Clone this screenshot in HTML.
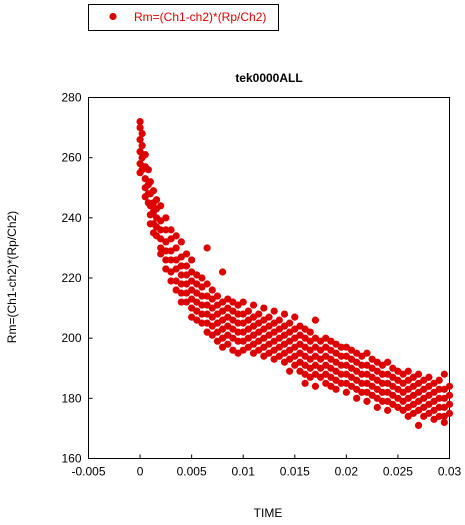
<!DOCTYPE html>
<html><head><meta charset="utf-8"><style>
body{margin:0;background:#fff;width:465px;height:525px;overflow:hidden}
svg{display:block;font-family:"Liberation Sans",sans-serif}
</style></head><body>
<svg id="chart" width="465" height="525" viewBox="0 0 465 525">
<rect x="88.5" y="4.5" width="190" height="26" fill="#fff" stroke="#000" stroke-width="1"/>
<circle cx="113" cy="16.5" r="3.6" fill="#dd0000"/>
<text x="134" y="21" font-size="12" fill="#dd0000">Rm=(Ch1-ch2)*(Rp/Ch2)</text>
<text x="269" y="82" font-size="12" font-weight="bold" text-anchor="middle">tek0000ALL</text>
<rect x="88.5" y="97.5" width="361" height="361" fill="#fff" stroke="#000"/>
<g id="ticks"></g>
<g id="points"></g>
<text x="268" y="517" font-size="12" text-anchor="middle">TIME</text>
<text transform="translate(16,277) rotate(-90)" font-size="12" text-anchor="middle">Rm=(Ch1-ch2)*(Rp/Ch2)</text>
</svg>
<script>
const xTicks=[-0.005,0,0.005,0.01,0.015,0.02,0.025,0.03];
const xTickLabels=["-0.005","0","0.005","0.01","0.015","0.02","0.025","0.03"];
const yTicks=[160,180,200,220,240,260,280];
const groupTimes=[0,0.0002,0.0005,0.0008,0.001,0.0013,0.0016,0.002,0.0025,0.003,0.0035,0.004,0.0045,0.005,0.0055,0.006,0.0065,0.007,0.0075,0.008,0.0085,0.009,0.0095,0.01,0.0105,0.011,0.0115,0.012,0.0125,0.013,0.0135,0.014,0.0145,0.015,0.0155,0.016,0.0165,0.017,0.0175,0.018,0.0185,0.019,0.0195,0.02,0.0205,0.021,0.0215,0.022,0.0225,0.023,0.0235,0.024,0.0245,0.025,0.0255,0.026,0.0265,0.027,0.0275,0.028,0.0285,0.029,0.0295,0.03];
const groupValues=[
[272,270,266,262,258,255],[268,264,260,256],[261,257,253,250,247],[256,251,248,245],[252,248,244,241,238],
[249,245,242,238,235],[246,243,240,237,234],[244,239,236,233,230,228],[240,236,232,229,226,223],[236,233,229,226,222,219],
[234,230,226,223,219,216],[232,227,224,221,218,215,212],[228,224,221,218,215,212],[226,222,219,216,213,210,207],[221,218,215,212,209,206],
[220,217,214,211,208,205],[230,218,214,211,208,205,202],[216,213,210,207,204,201],[214,211,208,205,202,199],[222,212,209,206,203,200,197],
[213,210,207,204,201,198],[212,209,206,203,200,196],[211,208,205,202,199,195],[212,208,205,202,199,196],[209,206,203,200,197],
[211,207,204,201,198,195],[208,205,202,199,196],[210,206,203,200,197,194],[207,204,201,198,195],[209,205,202,199,196,193],
[206,203,200,197,194],[208,204,201,198,195,192],[205,202,199,196,193,189],[207,203,200,197,194,191],[204,201,198,195,192,189],
[203,200,197,194,191,188,185],[202,199,196,193,190,187],[206,200,197,194,191,188,184],[199,196,193,190,187],[200,197,194,191,188,185],
[199,196,193,190,187,184],[198,195,192,189,186,183],[197,194,191,188,185],[197,194,191,188,185,182],[196,193,190,187,184],
[195,192,189,186,183,180],[194,191,188,185,182],[195,191,188,185,182,179],[193,190,187,184,181],[192,189,186,183,180,177],
[191,188,185,182,179],[192,188,185,182,179,176],[190,187,184,181,178],[189,186,183,180,177],[188,185,182,179,176],
[189,186,183,180,177,174],[187,184,181,178,175],[188,185,182,179,176,171],[186,183,180,177,174],[187,184,181,178,175],
[185,182,179,176,173],[186,183,180,177,174],[188,183,180,177,174,172],[184,181,178,175]];
const NS="http://www.w3.org/2000/svg";
const X0=88.5,X1=449.5,Y0=458.5,Y1=97.5;
const xs=v=>X0+(v+0.005)/0.035*(X1-X0);
const ys=v=>Y0-(v-160)/120*(Y0-Y1);
const tg=document.getElementById('ticks');
xTicks.forEach((t,i)=>{
  const x=xs(t);
  const l=document.createElementNS(NS,'line');
  
  
  l.setAttribute('x1',x);l.setAttribute('x2',x);l.setAttribute('y1',Y0);l.setAttribute('y2',Y0-4);l.setAttribute('stroke','#000');
  tg.appendChild(l);
  const tx=document.createElementNS(NS,'text');
  
  
  tx.setAttribute('x',x);tx.setAttribute('y',Y0+17);tx.setAttribute('font-size','12');tx.setAttribute('text-anchor','middle');
  tx.textContent=xTickLabels[i];tg.appendChild(tx);
});
yTicks.forEach(t=>{
  const y=ys(t);
  const l=document.createElementNS(NS,'line');
  
  
  l.setAttribute('x1',X0);l.setAttribute('x2',X0+4);l.setAttribute('y1',y);l.setAttribute('y2',y);l.setAttribute('stroke','#000');
  tg.appendChild(l);
  const tx=document.createElementNS(NS,'text');
  
  
  tx.setAttribute('x',X0-7);tx.setAttribute('y',y+4);tx.setAttribute('font-size','12');tx.setAttribute('text-anchor','end');
  tx.textContent=t;tg.appendChild(tx);
});
const pg=document.getElementById('points');
groupTimes.forEach((t,i)=>{
  groupValues[i].forEach(v=>{
    const c=document.createElementNS(NS,'circle');
    
    
    c.setAttribute('cx',xs(t));c.setAttribute('cy',ys(v));c.setAttribute('r','3.6');c.setAttribute('fill','#dd0000');
    pg.appendChild(c);
  });
});
</script>
</body></html>
